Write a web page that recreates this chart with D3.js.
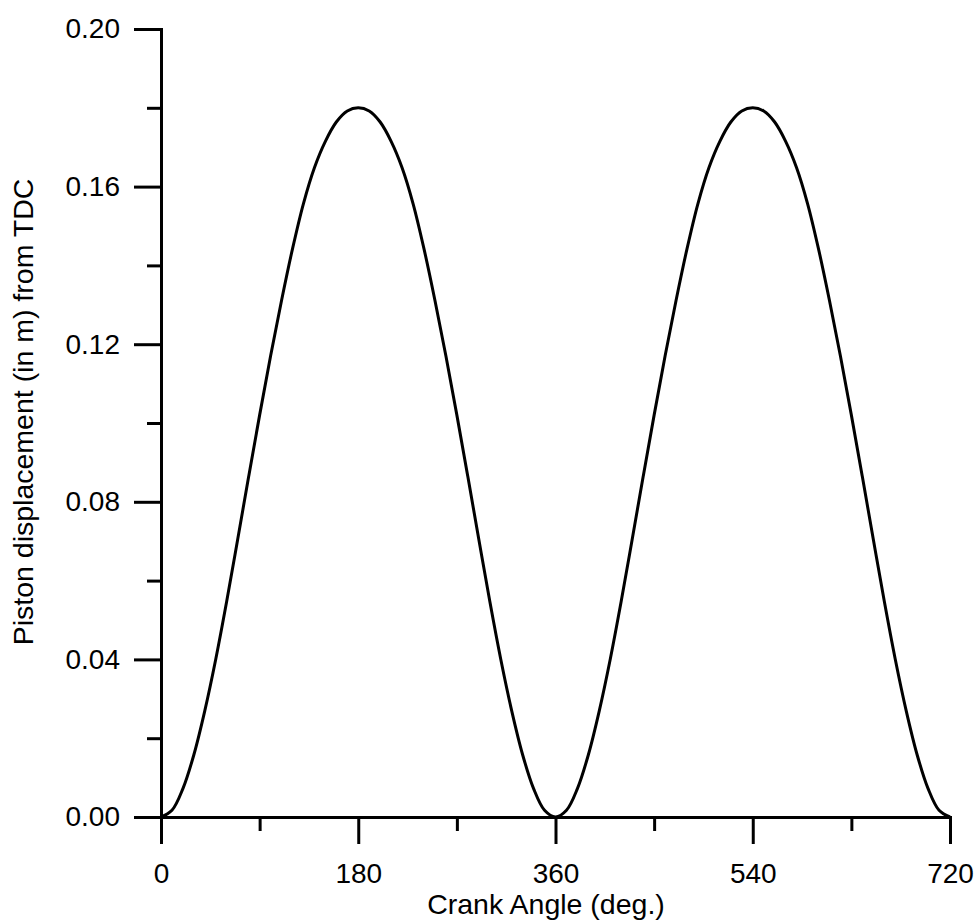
<!DOCTYPE html>
<html>
<head>
<meta charset="utf-8">
<script src="https://cdn.jsdelivr.net/npm/d3@7"></script>
<style>
  body { margin: 0; background: #fff; }
  svg { display: block; font-family: Arial, "Liberation Sans", sans-serif; }
  .axis path, .axis line { stroke: #000; stroke-width: 3; }
  .axis text { font-size: 28px; fill: #000; font-family: Arial, "Liberation Sans", sans-serif; }
  .label { font-size: 28.5px; fill: #000; }
  .curve { fill: none; stroke: #000; stroke-width: 3; }
</style>
</head>
<body>
<div id="chart"></div>
<script>
// crank angle (deg.) sampled every 10 degrees
var crankAngle = [
  0, 10, 20, 30, 40, 50, 60, 70, 80, 90, 100, 110, 120, 130, 140, 150, 160, 170,
  180, 190, 200, 210, 220, 230, 240, 250, 260, 270, 280, 290, 300, 310, 320, 330, 340, 350,
  360, 370, 380, 390, 400, 410, 420, 430, 440, 450, 460, 470, 480, 490, 500, 510, 520, 530,
  540, 550, 560, 570, 580, 590, 600, 610, 620, 630, 640, 650, 660, 670, 680, 690, 700, 710, 720
];

// piston displacement (m) from TDC
var displacement = [
  0.0000, 0.0017, 0.0072, 0.0158, 0.0270, 0.0401, 0.0548, 0.0705, 0.0864, 0.1020,
  0.1170, 0.1311, 0.1442, 0.1557, 0.1648, 0.1715, 0.1764, 0.1792,
  0.1800, 0.1792, 0.1764, 0.1715, 0.1648, 0.1557, 0.1442, 0.1311, 0.1170,
  0.1020, 0.0864, 0.0705, 0.0548, 0.0401, 0.0270, 0.0158, 0.0072, 0.0017,
  0.0000, 0.0017, 0.0072, 0.0158, 0.0270, 0.0401, 0.0548, 0.0705, 0.0864, 0.1020,
  0.1170, 0.1311, 0.1442, 0.1557, 0.1648, 0.1715, 0.1764, 0.1792,
  0.1800, 0.1792, 0.1764, 0.1715, 0.1648, 0.1557, 0.1442, 0.1311, 0.1170,
  0.1020, 0.0864, 0.0705, 0.0548, 0.0401, 0.0270, 0.0158, 0.0072, 0.0017,
  0.0000
];

var xTicks = [0, 180, 360, 540, 720];
var xMinorTicks = [90, 270, 450, 630];
var yTicks = [0, 0.04, 0.08, 0.12, 0.16, 0.20];
var yMinorTicks = [0.02, 0.06, 0.10, 0.14, 0.18];

var width = 977,
  height = 922;
var margin = {top: 29, right: 27, bottom: 105, left: 161};
var innerW = width - margin.left - margin.right,
  innerH = height - margin.top - margin.bottom;

var svg = d3.select("#chart").append("svg")
  .attr("width", width)
  .attr("height", height);

var g = svg.append("g")
  .attr("transform", "translate(" + margin.left + "," + margin.top + ")");

var x = d3.scaleLinear().domain([0, 720]).range([0, innerW]);
var y = d3.scaleLinear().domain([0, 0.20]).range([innerH, 0]);

// minor ticks first, major axes on top
g.append("g")
  .attr("class", "axis")
  .attr("transform", "translate(0," + innerH + ")")
  .call(d3.axisBottom(x).tickValues(xMinorTicks).tickSize(14).tickSizeOuter(0).tickFormat(""))
  .select(".domain").remove();

g.append("g")
  .attr("class", "axis")
  .call(d3.axisLeft(y).tickValues(yMinorTicks).tickSize(14).tickSizeOuter(0).tickFormat(""))
  .select(".domain").remove();

g.append("g")
  .attr("class", "axis")
  .attr("transform", "translate(0," + innerH + ")")
  .call(d3.axisBottom(x).tickValues(xTicks).tickSize(27).tickSizeOuter(0).tickPadding(19)
    .tickFormat(d3.format("d")));

g.append("g")
  .attr("class", "axis")
  .call(d3.axisLeft(y).tickValues(yTicks).tickSize(27).tickSizeOuter(0).tickPadding(14)
    .tickFormat(d3.format(".2f")));

g.selectAll(".axis .domain").attr("stroke-linecap", "square");

var line = d3.line()
  .x(function (d, i) { return x(crankAngle[i]); })
  .y(function (d) { return y(d); })
  .curve(d3.curveCatmullRom);

g.append("path")
  .datum(displacement)
  .attr("class", "curve")
  .attr("stroke-linejoin", "round")
  .attr("d", line);

svg.append("text")
  .attr("class", "label")
  .attr("x", 546)
  .attr("y", 914)
  .attr("text-anchor", "middle")
  .text("Crank Angle (deg.)");

svg.append("text")
  .attr("class", "label")
  .attr("transform", "translate(33,412) rotate(-90)")
  .attr("text-anchor", "middle")
  .text("Piston displacement (in m) from TDC");
</script>
</body>
</html>
